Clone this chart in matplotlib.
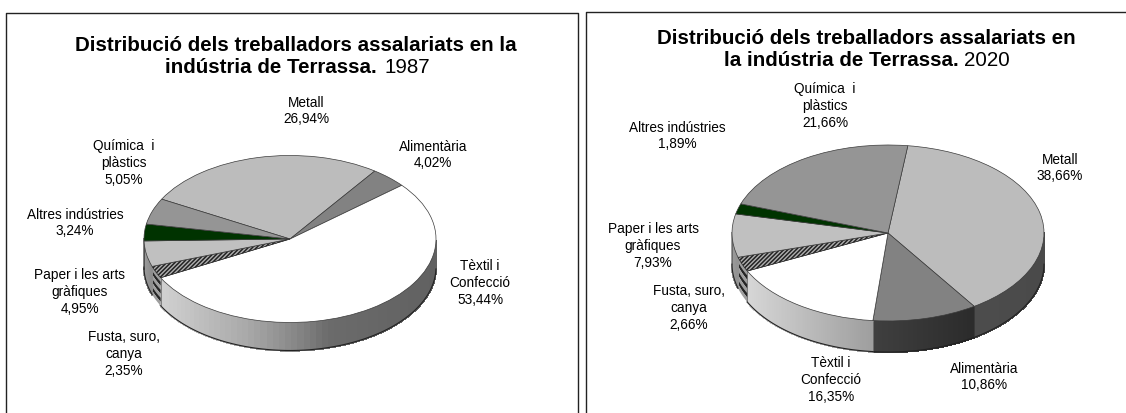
import numpy as np
import matplotlib
matplotlib.use('Agg')
import matplotlib.pyplot as plt
from matplotlib.collections import PolyCollection

plt.rcParams['font.family'] = ['Liberation Sans', 'DejaVu Sans']
plt.rcParams['hatch.linewidth'] = 1.1

W, H = 1126, 414

# same clockwise order in both pies
sectors = ['Metall', 'Alimentària', 'Tèxtil i\nConfecció', 'Fusta, suro,\ncanya',
           'Paper i les arts\ngràfiques', 'Altres indústries', 'Química  i\nplàstics']
values_1987 = [26.94, 4.02, 53.44, 2.35, 4.95, 3.24, 5.05]
values_2020 = [38.66, 10.86, 16.35, 2.66, 7.93, 1.89, 21.66]
pct_1987 = ['26,94%', '4,02%', '53,44%', '2,35%', '4,95%', '3,24%', '5,05%']
pct_2020 = ['38,66%', '10,86%', '16,35%', '2,66%', '7,93%', '1,89%', '21,66%']

colors = ['#bcbcbc', '#828282', '#ffffff', '#b0b0b0', '#c0c0c0', '#003300', '#959595']

# wall shading: sector -> (positions across the pie from -1 to 1, grey levels)
walls_1987 = {0: ([-1, 1], [0.4, 0.35]),
              2: ([-1, -0.3, 0.05, 0.25, 1], [0.85, 0.66, 0.52, 0.42, 0.38]),
              4: ([-1, -0.9], [0.62, 0.5])}
walls_2020 = {0: ([-1, 1], [0.33, 0.29]),
              1: ([-0.1, 0.55], [0.25, 0.17]),
              2: ([-1, -0.1], [0.87, 0.62]),
              4: ([-1, -0.9], [0.62, 0.5])}

# label centres in pixels
pos_1987 = [(306, 111), (433, 155), (480, 283), (124, 354), (80, 292), (75, 223), (124, 163)]
pos_2020 = [(1060, 168), (984, 377), (831, 380), (689, 308), (653, 246), (677, 136), (825, 106)]


def shade(level):
    return (level, level, level)


def draw_pie(values, cx, cy, rx, ry, depth, start, walls):
    ax = fig.add_axes([(cx - rx) / W, 1 - (cy + ry) / H, 2 * rx / W, 2 * ry / H])
    wedges, _ = ax.pie(values, radius=1, startangle=start, counterclock=False, colors=colors,
                       wedgeprops=dict(edgecolor='#3a3a3a', linewidth=0.5))
    ax.set_xlim(-1, 1)
    ax.set_ylim(-1, 1)
    ax.set_aspect('auto')
    ax.axis('off')
    wedges[3].set_hatch('////////')
    wedges[3].set_edgecolor('#222222')
    d = depth / ry
    ends = start - np.cumsum(values) * 3.6
    begins = np.r_[start, ends[:-1]]
    for i, (a0, a1) in enumerate(zip(begins, ends)):
        # front part of the rim only
        t = np.linspace(np.deg2rad(a1), np.deg2rad(a0), 80)
        t = t[np.sin(t) < 0.0]
        if len(t) < 2:
            continue
        xs, ys = np.cos(t), np.sin(t)
        if i == 3:
            n = 7
            for k in range(n):
                top = ys - d * k / n
                bot = ys - d * (k + 1) / n
                ax.fill(np.r_[xs, xs[::-1]], np.r_[top, bot[::-1]], color=shade(0.15 if k % 2 else 0.62),
                        lw=0, clip_on=False, zorder=0)
            continue
        polys = [[(xs[j], ys[j]), (xs[j + 1], ys[j + 1]), (xs[j + 1], ys[j + 1] - d), (xs[j], ys[j] - d)]
                 for j in range(len(t) - 1)]
        stops, levels = walls.get(i, ([-1, 1], [0.5, 0.5]))
        fc = [shade(v) for v in np.interp(xs[:-1], stops, levels)]
        ax.add_collection(PolyCollection(polys, facecolors=fc, edgecolors=fc, linewidths=1.0,
                                         antialiaseds=False, clip_on=False, zorder=0))
        ax.plot(xs, ys - d, color='#222222', lw=0.8, clip_on=False, zorder=1)
        ax.plot([xs[0], xs[0]], [ys[0], ys[0] - d], color='#444444', lw=0.4, clip_on=False, zorder=1)
    for w in wedges:
        w.set_zorder(2)
        w.set_clip_on(False)


fig = plt.figure(figsize=(W / 100, H / 100), dpi=100)
bg = fig.add_axes([0, 0, 1, 1])
bg.set_xlim(0, W)
bg.set_ylim(H, 0)
bg.axis('off')

# frames run off the bottom and right of the picture
bg.plot([6, 6, 578, 578], [414, 13.5, 13.5, 414], color='#222222', lw=1.0)
bg.plot([586, 586, 1126], [414, 12.5, 12.5], color='#222222', lw=1.0)

draw_pie(values_1987, 290, 240, 146, 83.5, 28, 151.5, walls_1987)
draw_pie(values_2020, 888, 234, 156, 88, 31, 82.7, walls_2020)

title_kw = dict(fontsize=14.8, color='black', va='baseline')
bg.text(296, 51, 'Distribució dels treballadors assalariats en la', ha='center', fontweight='bold', **title_kw)
bg.text(377, 73, 'indústria de Terrassa.', ha='right', fontweight='bold', **title_kw)
bg.text(385, 73, '1987', ha='left', **title_kw)
bg.text(866, 44, 'Distribució dels treballadors assalariats en', ha='center', fontweight='bold', **title_kw)
bg.text(959, 66.5, 'la indústria de Terrassa.', ha='right', fontweight='bold', **title_kw)
bg.text(964, 66.5, '2020', ha='left', **title_kw)

for name, pct, p in zip(sectors, pct_1987, pos_1987):
    bg.text(p[0], p[1], name + '\n' + pct, ha='center', va='center', fontsize=9.8, linespacing=1.24)
for name, pct, p in zip(sectors, pct_2020, pos_2020):
    bg.text(p[0], p[1], name + '\n' + pct, ha='center', va='center', fontsize=9.8, linespacing=1.24)

fig.savefig('out.png', dpi=100)
